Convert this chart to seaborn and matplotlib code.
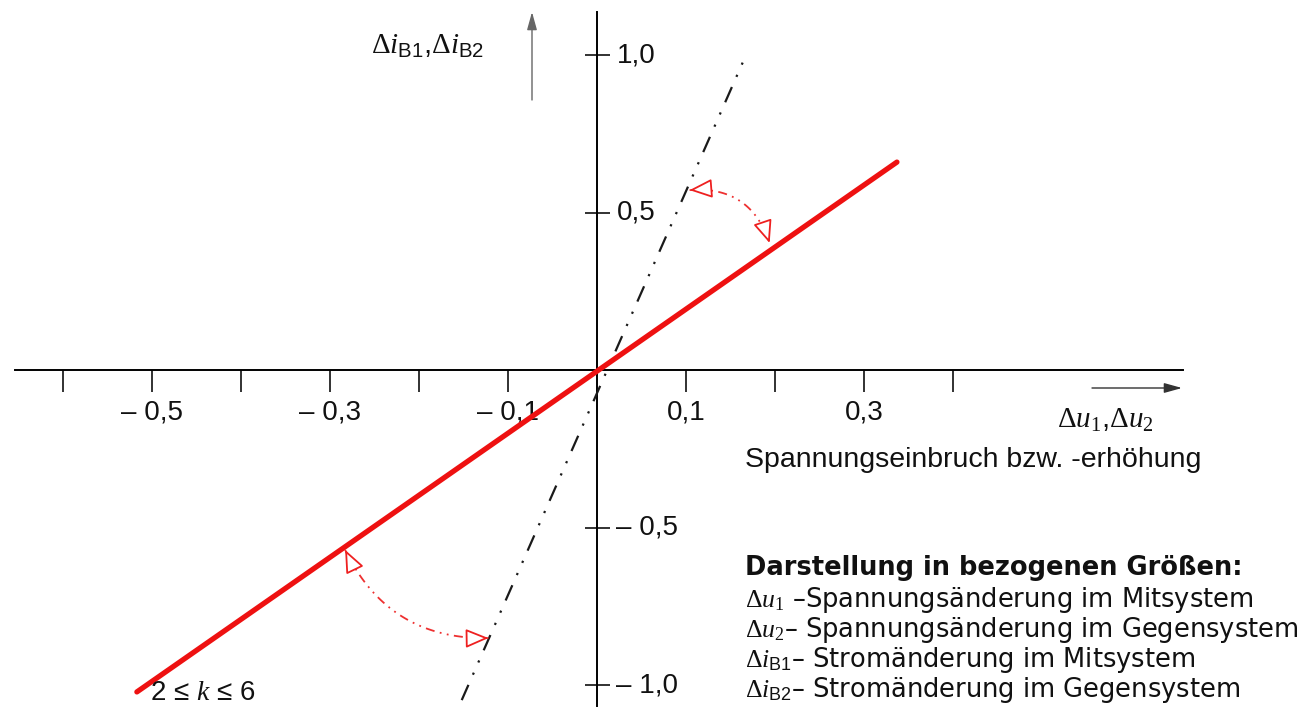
import numpy as np
import matplotlib
matplotlib.use("Agg")
import matplotlib.pyplot as plt
import seaborn as sns

# ---- data ----
red_x = [-0.517, 0.337]          # characteristic k = 2 (red)
red_y = [-1.022, 0.660]
dash_x = [-0.152, 0.164]         # characteristic k = 6 (dash-dot)
dash_y = [-1.048, 0.978]
xtick_major = [-0.5, -0.3, -0.1, 0.1, 0.3]
xtick_labels = ["– 0,5", "– 0,3", "– 0,1", "0,1", "0,3"]
xtick_minor = [-0.6, -0.4, -0.2, 0.2, 0.4]
ytick_vals = [1.0, 0.5, -0.5, -1.0]
ytick_labels = ["1,0", "0,5", "– 0,5", "– 1,0"]
arc_upper = [(0.104, 0.571), (0.194, 0.403)]
arc_lower = [(-0.283, -0.571), (-0.122, -0.851)]
legend_title = "Darstellung in bezogenen Größen:"
legend_rows = [
    r"$\Delta u_1$ –Spannungsänderung im Mitsystem",
    r"$\Delta u_2$– Spannungsänderung im Gegensystem",
    r"$\Delta i_{\mathsf{B1}}$– Stromänderung im Mitsystem",
    r"$\Delta i_{\mathsf{B2}}$– Stromänderung im Gegensystem",
]

sns.set_style("white")
plt.rcParams["font.family"] = ["Liberation Sans", "DejaVu Sans"]
plt.rcParams["mathtext.fontset"] = "custom"
plt.rcParams["mathtext.rm"] = "Liberation Serif"
plt.rcParams["mathtext.it"] = "Liberation Serif:italic"
plt.rcParams["mathtext.sf"] = "Liberation Sans"

W, H = 1307, 713
fig = plt.figure(figsize=(W / 100, H / 100), dpi=100)
ax = fig.add_axes([0, 0, 1, 1])
ox, oy, sx, sy = 597, 370, 890, 315
ax.set_xlim(-ox / sx, (W - ox) / sx)
ax.set_ylim((oy - H) / sy, oy / sy)

# lines
sns.lineplot(x=red_x, y=red_y, color="#ee1111", lw=3.8, ax=ax, zorder=4)
ax.lines[-1].set_solid_capstyle("round")
sns.lineplot(x=dash_x, y=dash_y, color="#1a1a1a", lw=1.6, ax=ax, zorder=3)
ax.lines[-1].set_dashes((7.5, 5, 1, 5, 1, 5))

# axes through the origin
for s in ["top", "right"]:
    ax.spines[s].set_visible(False)
ax.spines["left"].set_position(("data", 0))
ax.spines["bottom"].set_position(("data", 0))
for s in ["left", "bottom"]:
    ax.spines[s].set_color("black")
    ax.spines[s].set_linewidth(1.4)
ax.spines["bottom"].set_bounds(-0.654, 0.658)
ax.spines["left"].set_bounds(-1.067, 1.137)

ax.set_xticks(xtick_major)
ax.set_xticklabels(xtick_labels)
ax.set_xticks(xtick_minor, minor=True)
ax.tick_params(axis="x", which="both", bottom=True, direction="out", length=16,
               width=1.3, color="#222222", labelsize=20, pad=5, labelcolor="#111111")
ax.set_yticks(ytick_vals)
ax.tick_params(axis="y", left=True, direction="inout", length=18, width=1.3,
               color="#222222", labelleft=False)
for v, lab in zip(ytick_vals, ytick_labels):
    ax.annotate(lab, xy=(0, v), xytext=(14, 0), textcoords="offset points",
                ha="left", va="center", fontsize=20, color="#111111")

# axis direction arrows
ax.annotate("", xy=(1182, H - 388), xytext=(1092, H - 388), xycoords="figure pixels",
            textcoords="figure pixels",
            arrowprops=dict(arrowstyle="-|>,head_length=0.9,head_width=0.25",
                            color="#333333", lw=1.0, mutation_scale=12, shrinkA=0, shrinkB=0))
ax.annotate("", xy=(532, H - 12), xytext=(532, H - 100), xycoords="figure pixels",
            textcoords="figure pixels",
            arrowprops=dict(arrowstyle="-|>,head_length=0.9,head_width=0.25",
                            color="#666666", lw=1.0, mutation_scale=12, shrinkA=0, shrinkB=0))

# curved red arrows (range of k)
T = ax.transData
Ti = T.inverted()


def curved_arrow(p0, p1, rad):
    A = T.transform(p0)
    B = T.transform(p1)
    mid = (A + B) / 2
    d = B - A
    C = mid + rad * np.array([d[1], -d[0]])
    t = np.linspace(0, 1, 80)[:, None]
    pts = (1 - t) ** 2 * A + 2 * (1 - t) * t * C + t ** 2 * B
    dpts = Ti.transform(pts)
    ax.plot(dpts[:, 0], dpts[:, 1], color="#ee3030", lw=1.3,
            dashes=(5, 3, 1, 3, 1, 3), zorder=5)
    for tip in (A, B):
        v = tip - C
        v = v / np.hypot(*v)
        base = tip - v * 21
        ax.annotate("", xy=Ti.transform(tip), xytext=Ti.transform(base),
                    arrowprops=dict(arrowstyle="-|>,head_length=1.0,head_width=0.42",
                                    fc="white", ec="#ee2020", lw=1.3,
                                    mutation_scale=14, shrinkA=0, shrinkB=0),
                    zorder=6)


curved_arrow(arc_upper[0], arc_upper[1], -0.39)
curved_arrow(arc_lower[0], arc_lower[1], 0.32)

# texts
fig.text(428 / W, 1 - 46 / H, r"$\Delta i_{\mathsf{B1}}$,$\Delta i_{\mathsf{B2}}$",
         ha="center", va="center", fontsize=21, color="#111111")
fig.text(1105 / W, 1 - 420 / H, r"$\Delta u_1$,$\Delta u_2$",
         ha="center", va="center", fontsize=21, color="#111111")
fig.text(745 / W, 1 - 460 / H, "Spannungseinbruch bzw. -erhöhung",
         ha="left", va="center", fontsize=20.5, color="#111111")
fig.text(150 / W, 1 - 693 / H, r"2 ≤ $\mathit{k}$ ≤ 6",
         ha="left", va="center", fontsize=20, color="#111111")
fig.text(745 / W, 1 - 568 / H, legend_title, ha="left", va="center",
         fontsize=18.5, fontweight="bold", family="DejaVu Sans", color="#111111")
for i, row in enumerate(legend_rows):
    fig.text(745 / W, 1 - (600 + 30 * i) / H, row, ha="left", va="center",
             fontsize=18.5, family="DejaVu Sans", color="#111111")

fig.savefig("out.png", dpi=100, facecolor="white")
